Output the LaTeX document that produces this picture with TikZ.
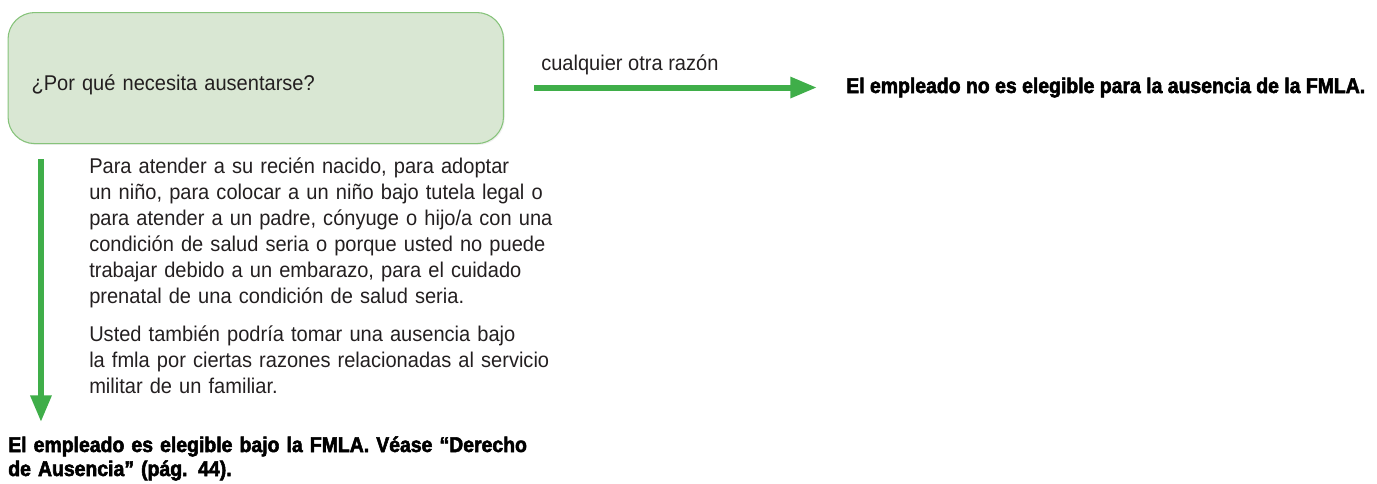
\documentclass[tikz,border=0pt]{standalone}
\usepackage{fontspec}
\setmainfont[FakeStretch=0.94]{Liberation Sans}
\newfontfamily\heavyfont[FakeStretch=0.91,FakeBold=2.5]{Liberation Sans Bold}
\usetikzlibrary{arrows.meta,shadows}
\definecolor{flowgreen}{HTML}{3FAE49}
\definecolor{boxfill}{HTML}{D9E7D3}
\definecolor{boxline}{HTML}{86C37A}
\definecolor{ink}{HTML}{231F20}
\tikzset{
  flow/.style={draw=flowgreen, line width=4.5pt, -{Triangle[length=20pt,width=15pt]}},
  question/.style={draw=boxline, line width=0.8pt, fill=boxfill, rounded corners=20pt,
    minimum width=371.6pt, minimum height=98.3pt, text width=336.4pt, inner xsep=17.6pt,
    align=left, text=ink, text height=19pt, text depth=0pt, font=\fontsize{16pt}{19pt}\selectfont,
    drop shadow={opacity=0.12, shadow xshift=1pt, shadow yshift=-1pt}},
  plain/.style={inner sep=0pt, text=ink, font=\fontsize{16pt}{19.5pt}\selectfont},
  verdict/.style={inner sep=0pt, text=black, font=\heavyfont\fontsize{16pt}{18pt}\selectfont}
}
\begin{document}
\begin{tikzpicture}[x=0.75pt,y=-0.75pt]
			\useasboundingbox (0,0) rectangle (1377,483);
			\node[question, anchor=north west] (why) at (7.5,12) {¿Por qué necesita ausentarse?};
			\node[plain, anchor=base west] (other) at (541,70) {cualquier otra razón};
			\node[verdict, anchor=base west] (noelig) at (846,93) {El empleado no es elegible para la ausencia de la FMLA.};
			\node[plain, anchor=base west, text width=400pt, align=left] (reasons) at (89,173)
				{Para atender a su recién nacido, para adoptar\\
				un niño, para colocar a un niño bajo tutela legal o\\
				para atender a un padre, cónyuge o hijo/a con una\\
				condición de salud seria o porque usted no puede\\
				trabajar debido a un embarazo, para el cuidado\\
				prenatal de una condición de salud seria.\\[9.5pt]
				Usted también podría tomar una ausencia bajo\\
				la fmla por ciertas razones relacionadas al servicio\\
				militar de un familiar.};
			\node[verdict, anchor=base west, text width=440pt, align=left] (elig) at (8,452)
				{El empleado es elegible bajo la FMLA. Véase “Derecho\\
				de Ausencia” (pág. 44).};
			\coordinate (drop) at ([xshift=25.1pt]why.south west);
			\draw[flow, shorten <=22.5pt, shorten >=21.75pt] (why.east |- noelig.west) -- (noelig.west);
			\draw[flow, shorten <=11.25pt, shorten >=10.5pt] (drop) -- (drop |- elig.north);
		\end{tikzpicture}
\end{document}
